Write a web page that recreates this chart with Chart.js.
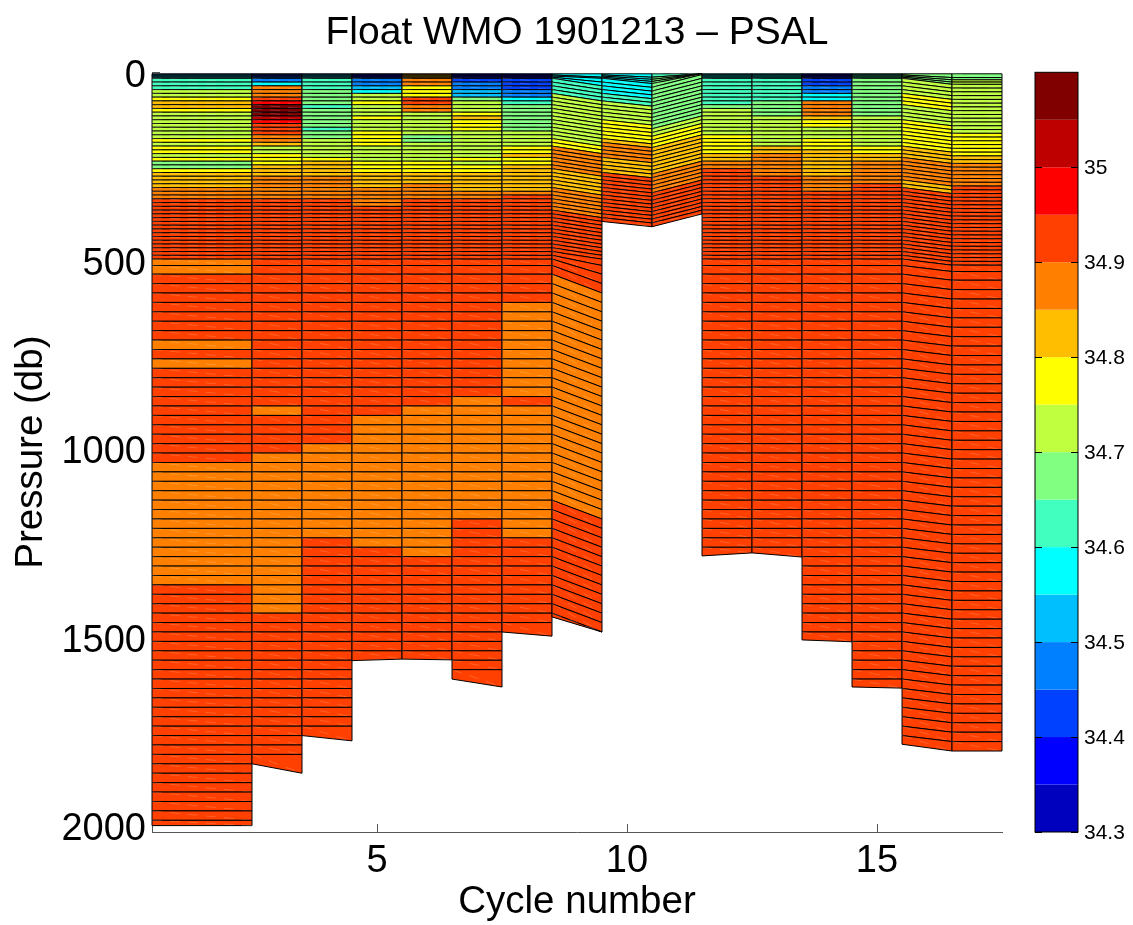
<!doctype html>
<html>

<head>
	<title>Float WMO 1901213 - PSAL</title>
	<script src="https://cdn.jsdelivr.net/npm/chart.js@4/dist/chart.umd.js"></script>
	<style>
		body { margin: 0; background: #fff; }
		canvas { display: block; }
	</style>
</head>

<body>
	<canvas id="canvas" width="1133" height="925"></canvas>
	<script>
		var xTicks = [5, 10, 15];
		var yTicks = [0, 500, 1000, 1500, 2000];
		var cbTicks = [34.3, 34.4, 34.5, 34.6, 34.7, 34.8, 34.9, 35];
		var jetColors = ['#0000BF', '#0000FF', '#0040FF', '#0080FF', '#00BFFF', '#00FFFF', '#40FFBF', '#80FF80',
			'#BFFF40', '#FFFF00', '#FFBF00', '#FF8000', '#FF4000', '#FF0000', '#BF0000', '#800000'];

		// pressure levels of a profile (db)
		var levels = [4, 7, 10, 13, 16, 26, 36, 46, 56, 66, 76, 86, 96, 106, 116, 126, 136, 146, 156, 166, 176, 186, 196,
			206, 216, 226, 236, 246, 256, 266, 276, 286, 296, 306, 316, 326, 336, 346, 356, 366, 376, 386, 396,
			406, 416, 426, 436, 446, 456, 466, 476, 486, 496, 513, 536, 561, 586, 611, 636, 661, 686, 711, 736, 761, 786,
			811, 836, 861, 886, 911, 936, 961, 986, 1011, 1036, 1061, 1086, 1111, 1136, 1161, 1186, 1211, 1236, 1261, 1286,
			1311, 1336, 1361, 1386, 1411, 1436, 1461, 1486, 1511, 1536, 1561, 1586, 1611, 1636, 1661, 1686, 1711, 1736, 1761, 1786,
			1811, 1836, 1861, 1886, 1911, 1936, 1961, 1986, 2000];

		// column edges on the cycle axis
		var columnEdges = [0.5, 2.5, 3.5, 4.5, 5.5, 6.5, 7.5, 8.5, 9.5, 10.5, 11.5, 12.5, 13.5, 14.5, 15.5, 16.5, 17.5];
		var bottomLeft = [2000, 1836, 1761, 1562, 1558, 1611, 1486, 1446, 396, 410, 1284, 1276, 1507, 1632, 1784, 1802];
		var bottomRight = [2000, 1861, 1775, 1558, 1560, 1632, 1497, 1486, 410, 376, 1276, 1287, 1512, 1635, 1802, 1802];
		var offsetLeft = [0, 0, 0, 0, 0, 0, 0, 0, 0, 14, 0, 0, 0, 0, 0, 16];
		var offsetRight = [0, 0, 0, 0, 0, 0, 0, 0, 14, -20, 0, 0, 0, 0, 16, 16];
		var levelShiftRight = [0, 0, 0, 0, 0, 0, 0, 2, 0, 0, 0, 0, 0, 0, 0, 0];

		// [pressure the value holds down to, salinity]
		var psal1 = [[13, 34.53], [27, 34.63], [46, 34.63], [66, 34.73], [77, 34.78], [95, 34.83], [107, 34.78], [175, 34.73], [186, 34.78], [195, 34.73], [215, 34.78], [225, 34.73], [237, 34.78], [255, 34.68], [263, 34.78], [303, 34.83], [334, 34.87], [498, 34.93], [536, 34.87], [713, 34.93], [735, 34.87], [763, 34.93], [785, 34.87], [1036, 34.93], [1369, 34.87], [9999, 34.93]];
		var psal3 = [[13, 34.43], [24, 34.48], [36, 34.58], [66, 34.87], [77, 34.93], [91, 34.98], [117, 35.08], [126, 35.03], [137, 34.98], [165, 34.93], [188, 34.87], [201, 34.83], [215, 34.73], [228, 34.78], [245, 34.78], [272, 34.83], [334, 34.87], [888, 34.93], [910, 34.87], [1012, 34.93], [1433, 34.87], [9999, 34.93]];
		var psal4 = [[13, 34.53], [46, 34.63], [86, 34.68], [98, 34.63], [144, 34.68], [157, 34.63], [179, 34.68], [223, 34.73], [234, 34.78], [250, 34.83], [272, 34.83], [334, 34.87], [987, 34.93], [1239, 34.87], [9999, 34.93]];
		var psal5 = [[13, 34.38], [20, 34.43], [36, 34.48], [46, 34.53], [55, 34.58], [75, 34.73], [86, 34.78], [113, 34.73], [126, 34.78], [157, 34.73], [175, 34.78], [199, 34.78], [232, 34.73], [263, 34.78], [276, 34.83], [303, 34.83], [356, 34.87], [912, 34.93], [1260, 34.87], [9999, 34.93]];
		var psal6 = [[18, 34.83], [36, 34.87], [55, 34.78], [64, 34.78], [86, 34.93], [108, 34.87], [166, 34.73], [184, 34.68], [232, 34.73], [263, 34.78], [299, 34.83], [338, 34.87], [888, 34.93], [1284, 34.87], [9999, 34.93]];
		var psal7 = [[13, 34.38], [26, 34.43], [46, 34.48], [62, 34.53], [73, 34.68], [104, 34.73], [113, 34.78], [126, 34.83], [153, 34.78], [223, 34.73], [237, 34.78], [250, 34.73], [263, 34.78], [319, 34.83], [338, 34.87], [862, 34.93], [1186, 34.87], [9999, 34.93]];
		var psal8 = [[18, 34.38], [42, 34.43], [64, 34.48], [75, 34.58], [91, 34.63], [153, 34.68], [197, 34.73], [213, 34.78], [228, 34.83], [250, 34.78], [316, 34.83], [328, 34.87], [612, 34.93], [862, 34.87], [886, 34.93], [1236, 34.87], [9999, 34.93]];
		var psal9 = [[18, 34.58], [55, 34.63], [175, 34.73], [197, 34.78], [259, 34.87], [307, 34.83], [370, 34.87], [540, 34.93], [1143, 34.87], [9999, 34.93]];
		var psal10 = [[20, 34.58], [60, 34.58], [77, 34.63], [122, 34.73], [175, 34.78], [188, 34.83], [228, 34.87], [268, 34.83], [9999, 34.93]];
		var psal11 = [[15, 34.63], [148, 34.68], [166, 34.73], [201, 34.78], [272, 34.83], [320, 34.87], [9999, 34.93]];
		var psal12 = [[20, 34.58], [82, 34.63], [100, 34.68], [157, 34.73], [170, 34.73], [219, 34.78], [237, 34.83], [259, 34.87], [9999, 34.93]];
		var psal13 = [[20, 34.58], [73, 34.63], [117, 34.68], [197, 34.73], [214, 34.83], [281, 34.87], [9999, 34.93]];
		var psal14 = [[13, 34.38], [33, 34.43], [60, 34.48], [73, 34.58], [117, 34.87], [126, 34.83], [148, 34.78], [175, 34.73], [205, 34.78], [272, 34.83], [312, 34.87], [9999, 34.93]];
		var psal15 = [[20, 34.63], [86, 34.68], [113, 34.68], [197, 34.73], [214, 34.78], [241, 34.83], [294, 34.87], [9999, 34.93]];
		var psal16 = [[20, 34.68], [60, 34.73], [82, 34.78], [126, 34.73], [201, 34.78], [223, 34.83], [285, 34.87], [307, 34.83], [9999, 34.93]];
		var psal17 = [[20, 34.68], [166, 34.73], [219, 34.78], [241, 34.83], [303, 34.87], [9999, 34.93]];
		var columnPsal = [psal1, psal3, psal4, psal5, psal6, psal7, psal8, psal9, psal10, psal11, psal12, psal13, psal14, psal15, psal16, psal17];

		function psalAt(bands, p) {
			for (var i = 0; i < bands.length; i++) {
				if (p < bands[i][0]) return bands[i][1];
			}
			return bands[bands.length - 1][1];
		}

		function colorFor(v) {
			var idx = Math.floor((v - 34.3) / 0.05);
			return jetColors[Math.max(0, Math.min(jetColors.length - 1, idx))];
		}

		// profiles that sit deeper or shallower still start together near the surface
		function withOffset(level, offset) {
			var p = level + offset * Math.min(1, level / 16);
			return Math.max(p, levels[0]);
		}

		// one scatter dataset per column, each point carrying its cell corners
		var datasets = columnPsal.map(function(bands, c) {
			var cells = [];
			for (var i = 0; i < levels.length - 1; i++) {
				var topL = withOffset(levels[i], offsetLeft[c]);
				if (topL >= bottomLeft[c]) break;
				var rIdx = Math.min(i + levelShiftRight[c], levels.length - 1);
				var rIdx2 = Math.min(i + 1 + levelShiftRight[c], levels.length - 1);
				var topR = withOffset(levels[rIdx], offsetRight[c]);
				var botL = withOffset(levels[i + 1], offsetLeft[c]);
				var botR = withOffset(levels[rIdx2], offsetRight[c]);
				if (i === 0) {
					topL = levels[0];
					topR = levels[0];
				}
				var last = (botL >= bottomLeft[c] - 6);
				if (last) {
					botL = bottomLeft[c];
					botR = bottomRight[c];
				}
				cells.push({
					x: columnEdges[c], y: topL, x2: columnEdges[c + 1],
					topR: topR, botL: botL, botR: botR,
					v: psalAt(bands, (topL + botL) / 2)
				});
				if (last) break;
			}
			return { label: 'column ' + c, data: cells, pointRadius: 0, showLine: false };
		});

		var pcolorPlugin = {
			id: 'pcolor',
			beforeDatasetsDraw: function(chart) {
				var ctx = chart.ctx;
				var xs = chart.scales.x, ys = chart.scales.y, cb = chart.scales.cb;
				var area = chart.chartArea;
				ctx.save();

				// inward ticks
				ctx.strokeStyle = '#555';
				ctx.lineWidth = 1;
				xTicks.forEach(function(t) {
					var px = Math.round(xs.getPixelForValue(t)) + 0.5;
					ctx.beginPath();
					ctx.moveTo(px, area.bottom);
					ctx.lineTo(px, area.bottom - 8);
					ctx.stroke();
				});
				yTicks.forEach(function(t) {
					var py = Math.floor(ys.getPixelForValue(t)) + 0.5;
					ctx.beginPath();
					ctx.moveTo(area.left, py);
					ctx.lineTo(area.left + 8, py);
					ctx.stroke();
				});

				// cells
				chart.data.datasets.forEach(function(ds) {
					ds.data.forEach(function(c) {
						var xl = xs.getPixelForValue(c.x), xr = xs.getPixelForValue(c.x2);
						var tl = ys.getPixelForValue(c.y), tr = ys.getPixelForValue(c.topR);
						var bl = ys.getPixelForValue(c.botL), br = ys.getPixelForValue(c.botR);
						ctx.beginPath();
						ctx.moveTo(xl, tl);
						ctx.lineTo(xr, tr);
						ctx.lineTo(xr, br);
						ctx.lineTo(xl, bl);
						ctx.closePath();
						ctx.fillStyle = colorFor(c.v);
						ctx.fill();
						ctx.strokeStyle = '#000';
						ctx.lineWidth = 1;
						ctx.stroke();
						// seam between the two triangles of the patch
						if (bl - tl > 3) {
							ctx.beginPath();
							ctx.moveTo(xl, tl);
							ctx.lineTo(xr, br);
							ctx.strokeStyle = 'rgba(255,255,255,0.28)';
							ctx.lineWidth = 0.6;
							ctx.setLineDash([10, 8]);
							ctx.stroke();
							ctx.setLineDash([]);
						}
					});
				});

				// colorbar
				var cbL = 1035, cbR = 1078;
				jetColors.forEach(function(col, i) {
					var y0 = cb.getPixelForValue(34.3 + i * 0.05);
					var y1 = cb.getPixelForValue(34.3 + (i + 1) * 0.05);
					ctx.fillStyle = col;
					ctx.fillRect(cbL, y1, cbR - cbL, y0 - y1);
				});
				ctx.strokeStyle = '#000';
				ctx.lineWidth = 1;
				ctx.strokeRect(cbL, area.top, cbR - cbL, area.bottom - area.top);
				cbTicks.forEach(function(t) {
					var py = Math.round(cb.getPixelForValue(t)) + 0.5;
					ctx.beginPath();
					ctx.moveTo(cbL, py);
					ctx.lineTo(cbL + 7, py);
					ctx.moveTo(cbR, py);
					ctx.lineTo(cbR - 7, py);
					ctx.stroke();
				});
				ctx.restore();
			}
		};

		var fontName = '"Liberation Sans", Arial, sans-serif';
		var plainLabel = function(v) { return String(v); };
		// fixed scale boxes, with no extra room for labels that hang over the ends
		var fixBox = function(s, w, h) {
			if (w) s.width = w;
			if (h) s.height = h;
			s.paddingTop = 0;
			s.paddingBottom = 0;
			s.paddingLeft = 0;
			s.paddingRight = 0;
		};

		new Chart(document.getElementById('canvas'), {
			type: 'scatter',
			data: { datasets: datasets },
			plugins: [pcolorPlugin],
			options: {
				responsive: false,
				animation: false,
				layout: { padding: 0 },
				plugins: {
					legend: { display: false },
					tooltip: { enabled: false },
					title: {
						display: true,
						text: 'Float WMO 1901213 – PSAL',
						fullSize: false,
						color: '#000',
						font: { family: fontName, size: 39, weight: 'normal' },
						padding: { top: 10, bottom: 15.5 }
					}
				},
				scales: {
					x: {
						type: 'linear',
						min: 0.5,
						max: 17.5,
						afterBuildTicks: function(s) { s.ticks = xTicks.map(function(v) { return { value: v }; }); },
						afterFit: function(s) { fixBox(s, 0, 93); },
						grid: { display: false, drawTicks: false },
						border: { color: '#555' },
						ticks: { color: '#000', padding: 7, maxRotation: 0, callback: plainLabel, font: { family: fontName, size: 38 } },
						title: { display: true, text: 'Cycle number', color: '#000', padding: { top: 0, bottom: 0 }, font: { family: fontName, size: 38.5 } }
					},
					y: {
						type: 'linear',
						reverse: true,
						min: 0,
						max: 2017,
						afterBuildTicks: function(s) { s.ticks = yTicks.map(function(v) { return { value: v }; }); },
						afterFit: function(s) { fixBox(s, 152, 0); },
						grid: { display: false, drawTicks: false },
						border: { color: '#555' },
						ticks: { color: '#000', padding: 6, labelOffset: 4, callback: plainLabel, font: { family: fontName, size: 38 } },
						title: { display: true, text: 'Pressure (db)', color: '#000', padding: { top: 8, bottom: 0 }, font: { family: fontName, size: 38.5 } }
					},
					cb: {
						type: 'linear',
						position: 'right',
						min: 34.3,
						max: 35.1,
						afterBuildTicks: function(s) { s.ticks = cbTicks.map(function(v) { return { value: v }; }); },
						afterFit: function(s) { fixBox(s, 131, 0); },
						grid: { display: false, drawTicks: false },
						border: { display: false },
						ticks: {
							color: '#000',
							padding: 82,
							labelOffset: 1,
							callback: plainLabel,
							font: { family: fontName, size: 21 }
						}
					}
				}
			}
		});
	</script>
</body>

</html>
